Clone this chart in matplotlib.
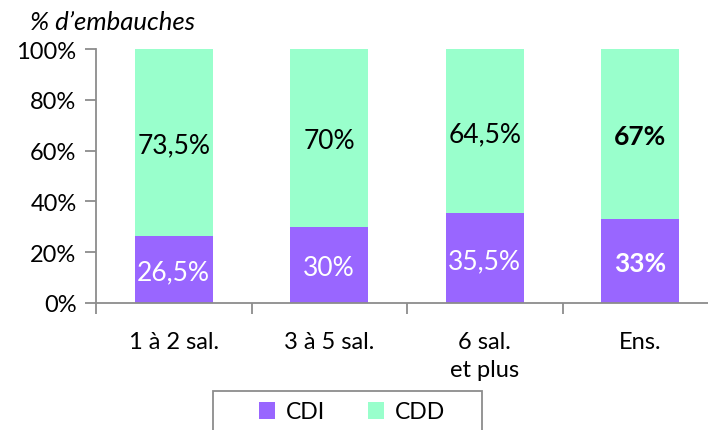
import numpy as np
import matplotlib.pyplot as plt
from matplotlib.patches import Patch, Rectangle

categories = ["1 à 2 sal.", "3 à 5 sal.", "6 sal.\net plus", "Ens."]
cdi = [26.5, 30, 35.5, 33]
cdd = [73.5, 70, 64.5, 67]
cdi_labels = ["26,5%", "30%", "35,5%", "33%"]
cdd_labels = ["73,5%", "70%", "64,5%", "67%"]
bold_flags = [False, False, False, True]

plt.rcParams['font.family'] = ['Lato', 'DejaVu Sans']

purple = "#9966FF"
green = "#99FFCC"
grey = "#8c8c8c"

fig = plt.figure(figsize=(7.08, 4.31), dpi=100)
ax = fig.add_axes([96 / 708, 127 / 431, 622 / 708, 254 / 431])

x = np.arange(len(categories))
ax.bar(x, cdi, width=0.5, color=purple, zorder=2)
ax.bar(x, cdd, width=0.5, bottom=cdi, color=green, zorder=2)

for i in range(len(categories)):
    weight = "bold" if bold_flags[i] else "normal"
    ax.text(x[i], cdi[i] / 2, cdi_labels[i], ha="center", va="center_baseline",
            fontsize=19, color="white", fontweight=weight)
    ax.text(x[i], cdi[i] + cdd[i] / 2, cdd_labels[i], ha="center",
            va="center_baseline", fontsize=19, color="black", fontweight=weight)

ax.set_xlim(-0.5, 3.5)
ax.set_ylim(0, 100)
ax.set_yticks(np.arange(0, 101, 20))
ax.set_yticklabels([f"{v}%" for v in range(0, 101, 20)], fontsize=17)

# category labels sit between the boundary ticks
ax.set_xticks(np.arange(-0.5, 3.5, 1))
ax.set_xticklabels([])
ax.set_xticks(x, minor=True)
ax.set_xticklabels(categories, minor=True, fontsize=17, linespacing=1.45)
ax.tick_params(axis="x", which="minor", length=0, pad=20)
ax.tick_params(axis="x", which="major", length=8, color=grey, width=1.3)
ax.tick_params(axis="y", length=8, color=grey, width=1.3, pad=6)

for side in ["top", "right"]:
    ax.spines[side].set_visible(False)
for side in ["left", "bottom"]:
    ax.spines[side].set_color(grey)
    ax.spines[side].set_linewidth(1.3)

fig.text(113 / 708, 1 - 22 / 431, "% d\u2019embauches", ha="center", va="center",
         fontsize=18.5, fontstyle="italic")

# legend box runs off the bottom edge
fig.patches.append(Rectangle((213 / 708, -0.05), 269 / 708, 0.05 + 39 / 431,
                             transform=fig.transFigure, facecolor="white",
                             edgecolor=grey, linewidth=1.3))
handles = [Patch(facecolor=purple, label="CDI"), Patch(facecolor=green, label="CDD")]
leg = fig.legend(handles=handles, loc="center",
                 bbox_to_anchor=(352 / 708, 1 - 413 / 431), ncol=2,
                 fontsize=16.5, frameon=False,
                 handlelength=0.7, handleheight=0.7, handletextpad=0.45,
                 columnspacing=1.9, borderpad=0, borderaxespad=0)

fig.savefig("out.png", dpi=100)
